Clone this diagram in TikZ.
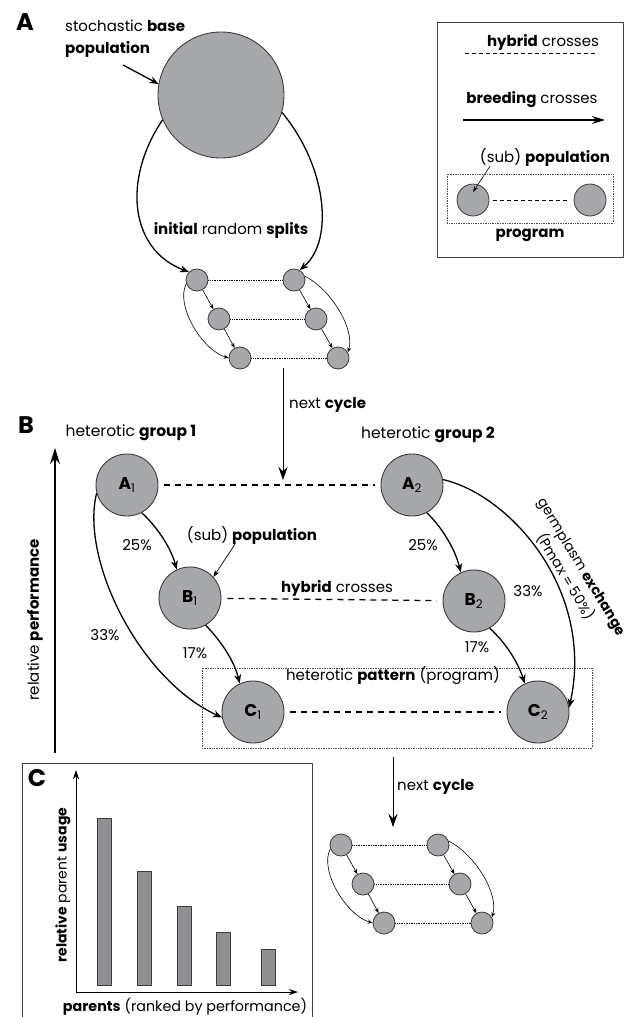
\documentclass[tikz,border=0pt]{standalone}
\usepackage{fontspec}
\setmainfont{Poppins}
\usetikzlibrary{arrows.meta}

\definecolor{popfill}{HTML}{A7A8AB}
\definecolor{barfill}{HTML}{8E8F92}
\definecolor{rim}{HTML}{3A3A3A}

\begin{document}
\begin{tikzpicture}[x=1pt, y=-1pt, line join=round,
  every node/.style={font=\fontsize{15}{18}\selectfont, inner sep=0pt}]

\tikzset{pop/.style={circle, draw=rim, line width=0.9pt, fill=popfill, minimum size=62pt,
    font=\fontsize{17}{17}\selectfont},
  minipop/.style={circle, draw=rim, line width=0.8pt, fill=popfill, minimum size=22pt},
  breed/.style={line width=1.3pt, -{Stealth[length=9pt, width=7pt]}},
  thinbreed/.style={line width=0.6pt, -{Stealth[length=5pt, width=4pt]}},
  hybrid/.style={line width=1.3pt, dash pattern=on 6pt off 5pt, shorten <=6pt, shorten >=6pt},
  minihybrid/.style={line width=0.7pt, densely dotted},
  frame/.style={line width=0.7pt, densely dotted, draw=black!70},
  panel/.style={font=\fontsize{24}{24}\selectfont\bfseries},
  % six subpopulations, two groups
  cluster/.pic={
    \node[minipop] (-a) at (0,0) {};
    \node[minipop] (-b) at (97,0) {};
    \node[minipop] (-c) at (22,39) {};
    \node[minipop] (-d) at (119,39) {};
    \node[minipop] (-e) at (43,78) {};
    \node[minipop] (-f) at (141,78) {};
    \draw[minihybrid] (-a) -- (-b);
    \draw[minihybrid] (-c) -- (-d);
    \draw[minihybrid] (-e) -- (-f);
    \draw[thinbreed] (-a) -- (-c);
    \draw[thinbreed] (-c) -- (-e);
    \draw[thinbreed] (-b) -- (-d);
    \draw[thinbreed] (-d) -- (-f);
    \draw[thinbreed] (-a.200) .. controls (-22,25) and (5,70) .. (-e.180);
    \draw[thinbreed] (-b.20) .. controls (135,10) and (158,50) .. (-f.30);
  }}

\useasboundingbox (0,0) rectangle (629,1017);

% A
\node[panel] (labA) at (25,22) {A};
\node[anchor=west, align=left, font=\fontsize{15}{22}\selectfont] (basetxt) at (65,39) {stochastic \textbf{base}\\\textbf{population}};
\node[circle, draw=rim, line width=0.9pt, fill=popfill, minimum size=126pt] (base) at (221,95) {};
\coordinate (basetip) at (123,65);
\draw[breed] (basetip) -- (base.170);
\node (splits) at (231,230) {\textbf{initial} random \textbf{splits}};
\pic (top) at (197,280) {cluster};
\draw[breed] (base.203) .. controls (122,180) and (130,250) .. (top-a.135);
\draw[breed] (base.-16) .. controls (326,165) and (335,240) .. (top-b.60);

\coordinate (nc1) at (283,368);
\coordinate (nc1end) at (283,480);
\draw[line width=0.8pt, -{Stealth[length=13pt, width=9pt]}] (nc1) -- (nc1end);
\node[anchor=west] (nctxt1) at (289,405) {next \textbf{cycle}};

% legend
\draw[line width=0.8pt, draw=black!75] (437,22) rectangle (623,257);
\node (leghyb) at (543,42) {\textbf{hybrid} crosses};
\coordinate (hybl) at (465,53);
\coordinate (hybr) at (598,53);
\draw[line width=0.8pt, dash pattern=on 4pt off 3pt] (hybl) -- (hybr);
\node (legbreed) at (532,100) {\textbf{breeding} crosses};
\coordinate (brl) at (463,120);
\coordinate (brr) at (605,120);
\draw[line width=1.3pt, -{Stealth[length=13pt, width=8pt]}] (brl) -- (brr);
\node (legpop) at (545,157) {(sub) \textbf{population}};
\draw[frame] (447,174) rectangle (613,223);
\node[minipop, minimum size=32pt] (legL) at (473,200) {};
\node[minipop, minimum size=32pt] (legR) at (590,200) {};
\draw[line width=0.8pt, dash pattern=on 4pt off 3pt, shorten <=4pt, shorten >=4pt] (legL) -- (legR);
\draw[line width=0.6pt, -{Stealth[length=6pt, width=4pt]}] ([xshift=-55pt]legpop.south) -- ([yshift=8pt]legL.center);
\node (legprog) at (530,235) {\textbf{program}};

% B
\node[panel] (labB) at (26,425) {B};
\coordinate (perfbot) at (55,753);
\coordinate (perftop) at (55,448);
\draw[line width=1.5pt, -{Stealth[length=16pt, width=10pt]}] (perfbot) -- (perftop);
\node[rotate=90] (perf) at (35,620) {relative \textbf{performance}};
\node[font=\fontsize{15.5}{18}\selectfont] (grp1) at (131,433) {heterotic \textbf{group 1}};
\node[font=\fontsize{15.5}{18}\selectfont] (grp2) at (428,435) {heterotic \textbf{group 2}};

\draw[frame] (202,668) rectangle (592,748);
\node (pattern) at (393,676) {heterotic \textbf{pattern} (program)};

\node[pop] (A1) at (127,485) {\textbf{A}\textsubscript{1}};
\node[pop] (A2) at (412,485) {\textbf{A}\textsubscript{2}};
\node[pop] (B1) at (190,598) {\textbf{B}\textsubscript{1}};
\node[pop] (B2) at (474,601) {\textbf{B}\textsubscript{2}};
\node[pop] (C1) at (253,712) {\textbf{C}\textsubscript{1}};
\node[pop] (C2) at (538,712) {\textbf{C}\textsubscript{2}};

\draw[hybrid] (A1) -- (A2);
\draw[hybrid] (B1) -- (B2);
\draw[hybrid] (C1) -- (C2);
\node (hyblab) at (337,588) {\textbf{hybrid} crosses};

\draw[breed] (A1.-62) .. controls (155,525) and (170,545) .. (B1.115);
\draw[breed] (A2.-62) .. controls (440,525) and (455,548) .. (B2.115);
\draw[breed] (B1.-60) .. controls (220,640) and (234,660) .. (C1.115);
\draw[breed] (B2.-60) .. controls (505,642) and (518,662) .. (C2.115);
\draw[breed] (A1.195) .. controls (80,560) and (140,680) .. (C1.190);
\draw[breed] (A2.10) .. controls (510,495) and (595,590) .. (C2.8);

\node (p1) at (137,545) {25\%};
\node (p2) at (105,635) {33\%};
\node (p3) at (195,653) {17\%};
\node (p4) at (423,545) {25\%};
\node (p5) at (528,591) {33\%};
\node (p6) at (477,647) {17\%};

\node (subpop) at (252,535) {(sub) \textbf{population}};
\draw[line width=0.7pt, -{Stealth[length=7pt, width=5pt]}] ([xshift=-17pt]subpop.south) -- (B1.42);

\node[rotate=-59, align=center, font=\fontsize{14}{19}\selectfont] (germ) at (573,572) {germplasm \textbf{exchange}\\(Pmax = 50\%)};

\coordinate (nc2) at (393,757);
\coordinate (nc2end) at (393,827);
\draw[line width=0.8pt, -{Stealth[length=13pt, width=9pt]}] (nc2) -- (nc2end);
\node[anchor=west] (nctxt2) at (397,787) {next \textbf{cycle}};
\pic (bot) at (341,845) {cluster};

% C
\draw[line width=0.8pt, draw=black!75] (22,1017) -- (22,763) -- (312,763) -- (312,1017);
\node[panel] (labC) at (37,778) {C};
\coordinate (orig) at (76,992);
\coordinate (ytop) at (76,770);
\coordinate (xend) at (298,992);
\draw[line width=0.8pt, -{Stealth[length=9pt, width=6pt]}] (orig) -- (ytop);
\draw[line width=0.8pt, -{Stealth[length=9pt, width=6pt]}] (orig) -- (xend);
\foreach \x/\h in {97/818, 137/871, 177/906, 216/932, 261/949}
  \draw[line width=0.7pt, draw=rim, fill=barfill] (\x,985) rectangle (\x+14,\h);
\node[rotate=90, font=\fontsize{14}{16}\selectfont] (usage) at (63,885) {\textbf{relative} parent \textbf{usage}};
\node[font=\fontsize{14.3}{16}\selectfont] (parents) at (185,1007) {\textbf{parents} (ranked by performance)};

\end{tikzpicture}
\end{document}
